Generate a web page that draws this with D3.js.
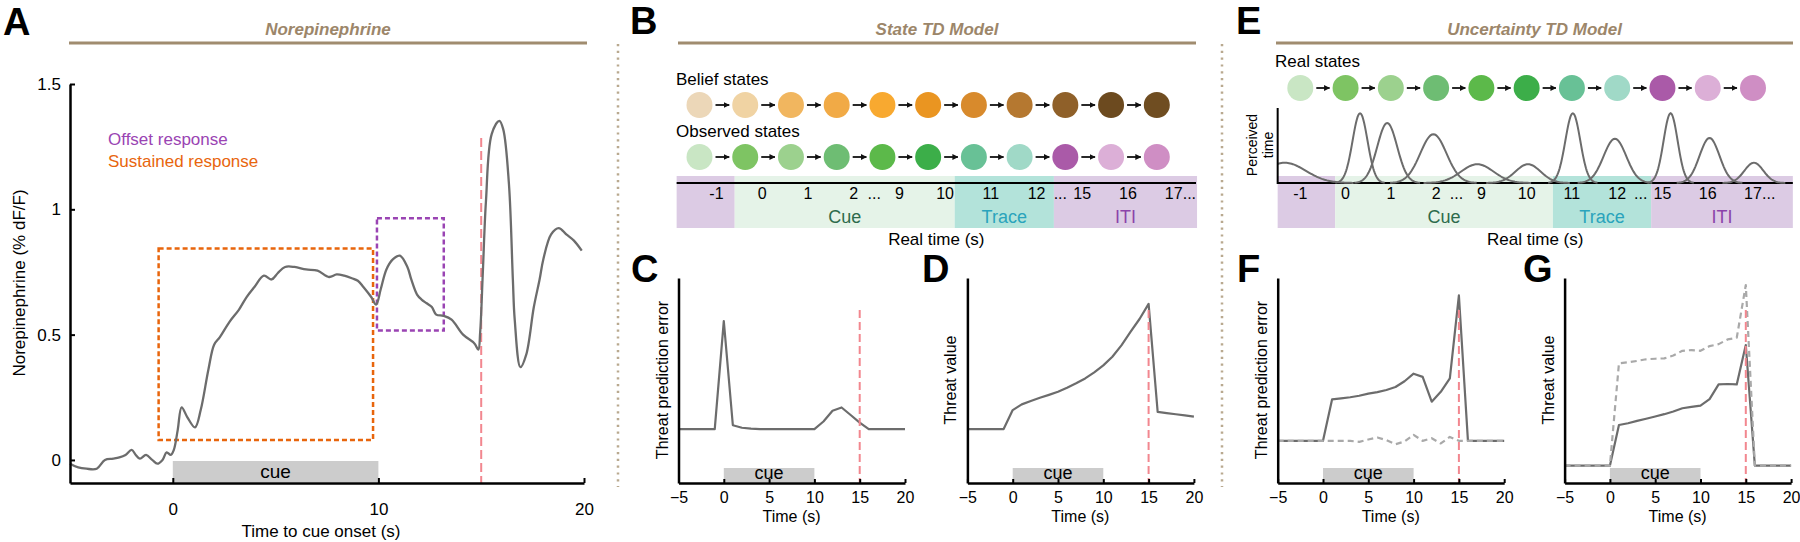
<!DOCTYPE html>
<html><head><meta charset="utf-8">
<script src="https://cdn.jsdelivr.net/npm/d3@7"></script>
<style>
body{margin:0;background:#fff;}
svg text{font-family:"Liberation Sans",Arial,sans-serif;}
</style>
</head><body>
<script>
// ---------------- DATA ----------------
// Panel A: norepinephrine trace
const normTime = [-5,-4.6,-4.2,-3.7,-3.3,-2.9,-2.6,-2.3,-2.0,-1.8,-1.6,-1.3,-1.0,-0.75,-0.5,-0.3,-0.1,0.05,0.24,0.43,0.71,1.08,1.36,1.73,2.01,2.29,2.75,3.22,3.59,3.97,4.43,4.8,5.1,5.46,5.92,6.48,7.04,7.6,7.97,8.34,8.71,9.0,9.27,9.65,9.89,10.11,10.39,10.7,11.04,11.41,11.6,11.88,12.1,12.35,12.6,12.81,13.18,13.56,14.12,14.67,14.86,14.95,15.08,15.23,15.51,15.88,16.07,16.35,16.54,16.63,16.91,17.19,17.56,17.84,18.02,18.4,18.77,19.14,19.51,19.89];
const normValue = [-0.015,-0.03,-0.035,-0.035,0.0,0.005,0.01,0.02,0.04,0.02,0.005,0.02,0.0,-0.015,0.0,0.03,0.02,0.04,0.12,0.21,0.17,0.13,0.2,0.36,0.46,0.49,0.55,0.6,0.65,0.69,0.735,0.72,0.745,0.77,0.77,0.76,0.755,0.73,0.74,0.735,0.725,0.715,0.69,0.65,0.62,0.68,0.76,0.8,0.815,0.77,0.72,0.66,0.64,0.625,0.61,0.58,0.575,0.56,0.5,0.465,0.44,0.51,0.75,1.03,1.3,1.353,1.32,1.1,0.72,0.56,0.37,0.42,0.61,0.72,0.8,0.9,0.925,0.9,0.875,0.835];
const normXTicks = [0, 10, 20];
const normYTicks = [0, 0.5, 1, 1.5];
const cueWindow = [0, 10];
const shockTime = 15;
const sustainedBox = {t0: -0.69, t1: 9.74, v0: 0.08, v1: 0.844};
const offsetBox = {t0: 9.93, t1: 13.18, v0: 0.516, v1: 0.964};

// Model panels C, D, F, G
const modelTime = [-5,-4,-3,-2,-1,0,1,2,3,4,5,6,7,8,9,10,11,12,13,14,15,16,17,18,19,20];
const modelTicks = [-5, 0, 5, 10, 15, 20];
const stateRPE   = [0,0,0,0,0, 1.0, 0.035,0.012,0.004, 0,0,0,0,0,0,0, 0.07,0.17,0.2,0.13,0.06, 0,0,0,0,0];
const stateValue = [0,0,0,0,0, 0.176,0.229,0.26,0.29,0.317,0.346,0.383,0.424,0.469,0.525,0.59,0.67,0.775,0.9,1.02,1.16, 0.16,0.148,0.137,0.126,0.115];
const uncRPE       = [0,0,0,0,0, 0, 0.285,0.292,0.3,0.31,0.325,0.335,0.35,0.37,0.41,0.462,0.44,0.269,0.337,0.429,1.0, 0,0,0,0,0];
const uncRPEDashed = [0,0,0,0,0, 0,0,0,0, -0.007,0.009,0.023,0.005,-0.023,-0.005,0.041,0,0.018,-0.018,0.027,0, 0,0,0,0,0];
const uncValue       = [0,0,0,0,0, 0, 0.225,0.235,0.248,0.26,0.272,0.285,0.3,0.318,0.325,0.332,0.368,0.45,0.452,0.45,0.668, 0,0,0,0,0];
const uncValueDashed = [0,0,0,0,0, 0, 0.567,0.572,0.58,0.589,0.592,0.594,0.61,0.636,0.64,0.636,0.662,0.673,0.699,0.708,1.0, 0,0,0,0,0];

// States (B, E)
const stateIndex = [0,1,2,3,4,5,6,7,8,9,10];
const stateLabels = ["-1","0","1","2","9","10","11","12","15","16","17"];
const beliefColors = ["#ecd7b8","#f0d3a3","#f1b65f","#f1aa46","#f8a930","#ea9521","#d88a2c","#b57830","#8f6029","#6c4a1f","#6f4d21"];
const stateColors  = ["#c9e6c4","#7ec463","#9cd18e","#6ebd73","#5cb94a","#3cae49","#68c196","#a0d9c7","#aa5aa8","#dcafd7","#cf8ec4"];
const epochNames = ["", "Cue", "Trace", "ITI"];
const epochStart = [-0.5, 0.77, 5.58, 7.75];
const epochEnd   = [0.77, 5.58, 7.75, 10.88];
const epochFill  = ["#dccbe4", "#e5f3e8", "#b3e3da", "#dccbe4"];
const epochText  = ["#000", "#2d6b4c", "#2aa4bc", "#8c43aa"];
// Perceived-time distributions (E), in state-index units
const peakCenter = [-0.34, 1.32, 1.92, 2.94, 3.91, 5.03, 6.02, 6.95, 8.18, 9.04, 10.02];
const peakWidth  = [0.46, 0.165, 0.22, 0.29, 0.36, 0.28, 0.165, 0.25, 0.155, 0.22, 0.21];
const peakHeight = [0.27, 0.93, 0.8, 0.65, 0.25, 0.25, 0.93, 0.59, 0.93, 0.6, 0.27];

// ---------------- STYLE ----------------
const C_TRACE = "#6c6c6c", C_DASH = "#a9a9a9", C_PINK = "#f2878f";
const C_TAN = "#a08c6f", C_TITLE = "#9c866a";
const C_ORANGE = "#e8650c", C_PURPLE = "#9a44b3", C_CUE = "#cccccc";

const svg = d3.select("body").append("svg").attr("width", 1800).attr("height", 542);
const defs = svg.append("defs");
defs.append("marker").attr("id","arrow").attr("viewBox","0 0 6 6").attr("refX",5.5).attr("refY",3)
  .attr("markerWidth",6).attr("markerHeight",6).attr("markerUnits","userSpaceOnUse").attr("orient","auto")
  .append("path").attr("d","M0,0 L6,3 L0,6 z").attr("fill","#111");

function letter(txt, x, y) {
  svg.append("text").attr("x", x).attr("y", y).attr("font-size", 38).attr("font-weight", "bold").text(txt);
}
function header(txt, x0, x1) {
  svg.append("text").attr("x", (x0 + x1) / 2).attr("y", 35).attr("text-anchor", "middle")
    .attr("font-size", 17).attr("font-weight", "bold").attr("font-style", "italic").attr("fill", C_TITLE).text(txt);
  svg.append("line").attr("x1", x0).attr("x2", x1).attr("y1", 43).attr("y2", 43)
    .attr("stroke", C_TAN).attr("stroke-width", 3);
}
function separator(x) {
  svg.append("line").attr("x1", x).attr("x2", x).attr("y1", 44).attr("y2", 487)
    .attr("stroke", "#b9a98f").attr("stroke-width", 2.5).attr("stroke-dasharray", "2.2,4.6");
}
function styleAxis(g, fs) {
  g.attr("font-family", null).attr("font-size", null);
  g.selectAll("text").attr("font-size", fs).attr("fill", "#000");
  g.select(".domain").attr("stroke", "#000").attr("stroke-width", 2.5);
  g.selectAll(".tick line").attr("stroke", "#000").attr("stroke-width", 2);
}

// ---------------- PANEL A ----------------
letter("A", 3, 35);
header("Norepinephrine", 69, 587);
{
  const x = d3.scaleLinear().domain([-5, 20]).range([70, 584]);
  const y = d3.scaleLinear().domain([-0.092, 1.5]).range([483, 84]);
  const g = svg.append("g");
  // cue bar
  g.append("rect").attr("x", x(cueWindow[0])).attr("width", x(cueWindow[1]) - x(cueWindow[0]))
    .attr("y", 461).attr("height", 21).attr("fill", C_CUE);
  g.append("text").attr("x", x((cueWindow[0] + cueWindow[1]) / 2)).attr("y", 478).attr("text-anchor", "middle")
    .attr("font-size", 19).text("cue");
  // boxes
  g.append("rect").attr("x", x(sustainedBox.t0)).attr("width", x(sustainedBox.t1) - x(sustainedBox.t0))
    .attr("y", y(sustainedBox.v1)).attr("height", y(sustainedBox.v0) - y(sustainedBox.v1))
    .attr("fill", "none").attr("stroke", C_ORANGE).attr("stroke-width", 2.5).attr("stroke-dasharray", "5,3");
  g.append("rect").attr("x", x(offsetBox.t0)).attr("width", x(offsetBox.t1) - x(offsetBox.t0))
    .attr("y", y(offsetBox.v1)).attr("height", y(offsetBox.v0) - y(offsetBox.v1))
    .attr("fill", "none").attr("stroke", C_PURPLE).attr("stroke-width", 2.5).attr("stroke-dasharray", "5,3");
  // shock line
  g.append("line").attr("x1", x(shockTime)).attr("x2", x(shockTime)).attr("y1", 138).attr("y2", 483)
    .attr("stroke", C_PINK).attr("stroke-width", 2).attr("stroke-dasharray", "9,4");
  // trace
  const pts = normTime.map((t, i) => [t, normValue[i]]);
  g.append("path").datum(pts).attr("fill", "none").attr("stroke", C_TRACE).attr("stroke-width", 2.3)
    .attr("stroke-linejoin", "round")
    .attr("d", d3.line().x(d => x(d[0])).y(d => y(d[1])).curve(d3.curveCatmullRom.alpha(0.5)));
  // axes
  const gx = g.append("g").attr("transform", "translate(0,483)")
    .call(d3.axisBottom(x).tickValues(normXTicks).tickSizeInner(-5).tickSizeOuter(0).tickPadding(20));
  styleAxis(gx, 17);
  const gy = g.append("g").attr("transform", "translate(70,0)")
    .call(d3.axisLeft(y).tickValues(normYTicks).tickSizeInner(-5).tickSizeOuter(0).tickPadding(9).tickFormat(d3.format("")));
  styleAxis(gy, 17);
  // labels
  g.append("text").attr("x", (70 + 584) / 2 - 6).attr("y", 537).attr("text-anchor", "middle").attr("font-size", 17)
    .text("Time to cue onset (s)");
  g.append("text").attr("transform", "translate(25,283) rotate(-90)").attr("text-anchor", "middle").attr("font-size", 17)
    .text("Norepinephrine (% dF/F)");
  g.append("text").attr("x", 108).attr("y", 145).attr("font-size", 17).attr("fill", C_PURPLE).text("Offset response");
  g.append("text").attr("x", 108).attr("y", 167).attr("font-size", 17).attr("fill", C_ORANGE).text("Sustained response");
}

separator(618);
separator(1222);

// ---------------- STATE DIAGRAMS ----------------
function stateRow(x, cy, colors) {
  const r = 13;
  svg.append("g").selectAll("circle").data(stateIndex).join("circle")
    .attr("cx", d => x(d)).attr("cy", cy).attr("r", r).attr("fill", d => colors[d]);
  svg.append("g").selectAll("line").data(stateIndex.slice(0, -1)).join("line")
    .attr("x1", d => x(d) + r + 3).attr("x2", d => x(d + 1) - r - 3)
    .attr("y1", cy).attr("y2", cy).attr("stroke", "#111").attr("stroke-width", 1.8)
    .attr("marker-end", "url(#arrow)");
}
function timeBand(x, labelShift, x0, x1) {
  const g = svg.append("g");
  g.selectAll("rect").data(epochNames).join("rect")
    .attr("x", (d, i) => x(epochStart[i])).attr("width", (d, i) => x(epochEnd[i]) - x(epochStart[i]))
    .attr("y", 176).attr("height", 52).attr("fill", (d, i) => epochFill[i]);
  g.selectAll("text.ep").data(epochNames).join("text").attr("class", "ep")
    .attr("x", (d, i) => x((epochStart[i] + epochEnd[i]) / 2)).attr("y", 222.5).attr("text-anchor", "middle")
    .attr("font-size", 18).attr("fill", (d, i) => epochText[i]).text(d => d);
  g.selectAll("text.st").data(stateIndex).join("text").attr("class", "st")
    .attr("x", d => x(d + labelShift)).attr("y", 198.5).attr("text-anchor", "middle")
    .attr("font-size", 16).text(d => stateLabels[d]);
  // ellipses
  g.append("text").attr("x", x(3 + labelShift + 0.45)).attr("y", 198.5).attr("text-anchor", "middle").attr("font-size", 16).text("...");
  g.append("text").attr("x", x(8 + labelShift - 0.48)).attr("y", 198.5).attr("text-anchor", "middle").attr("font-size", 16).text("...");
  g.append("text").attr("x", x(10 + labelShift) + 9).attr("y", 198.5).attr("text-anchor", "start").attr("font-size", 16).text("...");
  g.append("line").attr("x1", x0).attr("x2", x1).attr("y1", 183).attr("y2", 183).attr("stroke", "#000").attr("stroke-width", 2);
  g.append("text").attr("x", (x0 + x1) / 2).attr("y", 245).attr("text-anchor", "middle").attr("font-size", 17).text("Real time (s)");
}

// Panel B
letter("B", 630, 34);
header("State TD Model", 678, 1196);
{
  const xB = d3.scaleLinear().domain([0, 10]).range([699.5, 1156.8]);
  svg.append("text").attr("x", 676).attr("y", 85).attr("font-size", 17).text("Belief states");
  stateRow(xB, 105, beliefColors);
  svg.append("text").attr("x", 676).attr("y", 137).attr("font-size", 17).text("Observed states");
  stateRow(xB, 157, stateColors);
  timeBand(xB, 0.37, xB(epochStart[0]), 1196);
}

// Panel E
letter("E", 1236, 34);
header("Uncertainty TD Model", 1276, 1793);
{
  const xE = d3.scaleLinear().domain([0, 10]).range([1300.3, 1753]);
  const yE = d3.scaleLinear().domain([0, 1]).range([183, 108]);
  svg.append("text").attr("x", 1275).attr("y", 67).attr("font-size", 17).text("Real states");
  stateRow(xE, 88, stateColors);
  timeBand(xE, 0, xE(epochStart[0]), xE(epochEnd[3]));
  // perceived time distributions
  const lo = epochStart[0];
  const curves = peakCenter.map((c, i) => {
    const s = peakWidth[i], h = peakHeight[i];
    const a = Math.max(lo, c - 3.3 * s), b = c + 3.3 * s;
    return d3.range(0, 61).map(k => {
      const u = a + (b - a) * k / 60;
      return [u, h * Math.exp(-0.5 * ((u - c) / s) ** 2)];
    });
  });
  svg.append("g").selectAll("path").data(curves).join("path")
    .attr("fill", "none").attr("stroke", C_TRACE).attr("stroke-width", 2)
    .attr("d", d3.line().x(d => xE(d[0])).y(d => yE(d[1])));
  svg.append("line").attr("x1", xE(lo)).attr("x2", xE(lo)).attr("y1", 108).attr("y2", 184)
    .attr("stroke", "#000").attr("stroke-width", 2);
  svg.append("text").attr("transform", `translate(${xE(lo) - 21},145) rotate(-90)`).attr("text-anchor", "middle")
    .attr("font-size", 14).text("Perceived");
  svg.append("text").attr("transform", `translate(${xE(lo) - 5},145) rotate(-90)`).attr("text-anchor", "middle")
    .attr("font-size", 14).text("time");
}

// ---------------- MODEL PANELS ----------------
function modelPanel(x0, yDomain, series, yLabel) {
  const x = d3.scaleLinear().domain([-5, 20]).range([x0, x0 + 226.5]);
  const y = d3.scaleLinear().domain(yDomain).range([483, 278]);
  const g = svg.append("g");
  g.append("rect").attr("x", x(cueWindow[0])).attr("width", x(cueWindow[1]) - x(cueWindow[0]))
    .attr("y", 468).attr("height", 14).attr("fill", C_CUE);
  g.append("text").attr("x", x(5)).attr("y", 479).attr("text-anchor", "middle").attr("font-size", 18).text("cue");
  const line = d3.line().x(d => x(d[0])).y(d => y(d[1]));
  series.forEach(s => {
    g.append("path").datum(modelTime.map((t, i) => [t, s.values[i]]))
      .attr("fill", "none").attr("stroke", s.dashed ? C_DASH : C_TRACE).attr("stroke-width", 2.2)
      .attr("stroke-dasharray", s.dashed ? "6,4" : null).attr("stroke-linejoin", "round").attr("d", line);
  });
  g.append("line").attr("x1", x(shockTime)).attr("x2", x(shockTime)).attr("y1", 310).attr("y2", 483)
    .attr("stroke", C_PINK).attr("stroke-width", 2).attr("stroke-dasharray", "8,4");
  const gx = g.append("g").attr("transform", "translate(0,483)")
    .call(d3.axisBottom(x).tickValues(modelTicks).tickSizeInner(-4).tickSizeOuter(0).tickPadding(9));
  styleAxis(gx, 16);
  const gy = g.append("g").attr("transform", `translate(${x0},0)`)
    .call(d3.axisLeft(y).tickValues([]).tickSizeOuter(0));
  styleAxis(gy, 16);
  g.append("text").attr("x", x0 + 113).attr("y", 522).attr("text-anchor", "middle").attr("font-size", 16).text("Time (s)");
  g.append("text").attr("transform", `translate(${x0 - 11},380) rotate(-90)`).attr("text-anchor", "middle")
    .attr("font-size", 16).text(yLabel);
}

letter("C", 631, 282);
modelPanel(678.5, [-0.5, 1.4], [{values: stateRPE}], "Threat prediction error");
letter("D", 922, 282);
modelPanel(967.4, [-0.5, 1.4], [{values: stateValue}], "Threat value");
letter("F", 1237, 282);
modelPanel(1277.7, [-0.29, 1.12], [{values: uncRPE}, {values: uncRPEDashed, dashed: true}], "Threat prediction error");
letter("G", 1523, 282);
modelPanel(1564.6, [-0.096, 1.039], [{values: uncValue}, {values: uncValueDashed, dashed: true}], "Threat value");
</script>
</body></html>
